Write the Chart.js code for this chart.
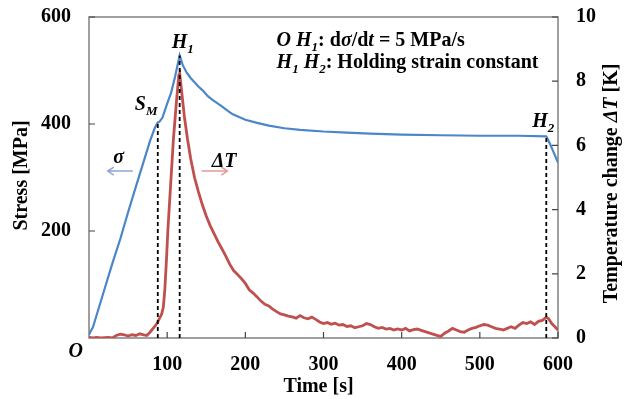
<!DOCTYPE html>
<html>
<head>
<meta charset="utf-8">
<script src="https://cdn.jsdelivr.net/npm/chart.js@4.4.0/dist/chart.umd.min.js"></script>
<style>
  html, body { margin:0; padding:0; background:#fff; }
  #wrap { width:626px; height:399px; }
</style>
</head>
<body>
<div id="wrap"><canvas id="grafico"></canvas></div>
<script>
// tiempo [s] y esfuerzo [MPa]
const stressTime = [0, 2, 5, 10, 20, 30, 40, 50, 60, 70, 78, 84, 88, 90, 94, 100, 105, 110, 116, 120, 125, 130, 135, 140, 146, 152, 158, 164, 170, 178, 184, 192, 200, 215, 230, 250, 270, 300, 330, 360, 400, 450, 500, 550, 585, 590, 595, 600];
const stressVals = [6, 12, 20, 44, 92, 140, 185, 235, 283, 330, 368, 392, 403, 404, 412, 438, 458, 488, 528, 510, 496, 486, 478, 470, 462, 452, 445, 439, 433, 424, 418, 413, 408, 402, 397, 392, 389, 386, 384, 382, 380, 379, 378, 378, 377, 362, 345, 328];

// cambio de temperatura [K]
const tempTime = [0, 5, 10, 15, 20, 25, 30, 35, 40, 45, 50, 55, 60, 65, 70, 74, 78, 82, 86, 88, 90, 93, 95, 97, 99, 101, 104, 108, 112, 115, 116, 118, 122, 126, 130, 135, 140, 145, 150, 155, 160, 165, 170, 175, 180, 185, 190, 195, 200, 205, 210, 215, 220, 225, 230, 235, 240, 245, 250, 255, 260, 265, 270, 275, 280, 285, 290, 295, 300, 305, 310, 315, 320, 325, 330, 335, 340, 345, 350, 355, 360, 365, 370, 375, 380, 385, 390, 395, 400, 405, 410, 415, 420, 425, 430, 435, 440, 445, 450, 455, 460, 465, 470, 475, 480, 485, 490, 495, 500, 505, 510, 515, 520, 525, 530, 535, 540, 545, 550, 555, 560, 565, 570, 575, 580, 585, 588, 592, 596, 600];
const tempVals = [0.02, 0.0, 0.02, 0.0, 0.01, 0.02, 0.0, 0.08, 0.12, 0.1, 0.06, 0.1, 0.08, 0.13, 0.1, 0.08, 0.18, 0.3, 0.42, 0.5, 0.6, 0.75, 0.95, 1.5, 2.4, 3.4, 4.6, 6.2, 7.4, 8.2, 8.25, 7.8, 6.9, 6.2, 5.6, 5.0, 4.55, 4.15, 3.8, 3.5, 3.25, 3.0, 2.78, 2.55, 2.3, 2.1, 1.98, 1.85, 1.7, 1.5, 1.4, 1.28, 1.15, 1.05, 1.0, 0.9, 0.82, 0.75, 0.72, 0.68, 0.66, 0.62, 0.7, 0.63, 0.6, 0.65, 0.58, 0.5, 0.45, 0.48, 0.43, 0.46, 0.4, 0.42, 0.36, 0.38, 0.32, 0.35, 0.38, 0.45, 0.42, 0.35, 0.3, 0.33, 0.28, 0.3, 0.25, 0.28, 0.25, 0.3, 0.22, 0.26, 0.28, 0.24, 0.2, 0.16, 0.12, 0.08, 0.05, 0.15, 0.22, 0.3, 0.25, 0.2, 0.18, 0.25, 0.3, 0.33, 0.38, 0.42, 0.4, 0.35, 0.3, 0.28, 0.25, 0.3, 0.35, 0.3, 0.4, 0.48, 0.45, 0.5, 0.42, 0.52, 0.55, 0.65, 0.6, 0.45, 0.35, 0.25];

// puntos S_M, H1, H2
const markerTime = [88, 116, 585];
const markerStress = [403, 528, 377];

const timeTicks = [100, 200, 300, 400, 500, 600];
const stressTicks = [200, 400, 600];
const tempTicks = [0, 2, 4, 6, 8, 10];

const FAM = "'Liberation Serif', 'Times New Roman', serif";
Chart.defaults.font = { family: FAM, size: 20, weight: 'bold' };
Chart.defaults.color = '#000';

function anchoRuns(ctx, partes) {
  let w = 0;
  for (const p of partes) {
    ctx.font = (p.it ? 'italic ' : '') + 'bold ' + (p.sub ? 13 : 20) + 'px ' + FAM;
    w += ctx.measureText(p.t).width;
  }
  return w;
}
function runs(ctx, x, y, partes) {
  for (const p of partes) {
    ctx.font = (p.it ? 'italic ' : '') + 'bold ' + (p.sub ? 13 : 20) + 'px ' + FAM;
    ctx.fillText(p.t, x, y + (p.sub ? 5 : 0));
    x += ctx.measureText(p.t).width;
  }
  return x;
}
function flecha(ctx, x0, x1, y, color) {
  const d = x1 > x0 ? -1 : 1;
  ctx.strokeStyle = color; ctx.lineWidth = 1.5;
  ctx.beginPath(); ctx.moveTo(x0, y); ctx.lineTo(x1, y);
  ctx.moveTo(x1 + d * 6, y - 4); ctx.lineTo(x1, y); ctx.lineTo(x1 + d * 6, y + 4);
  ctx.stroke();
}

const marcas = {
  id: 'marcas',
  beforeDatasetsDraw(chart) {
    const { ctx, chartArea: a, scales: { x, y, y1 } } = chart;
    ctx.save();
    ctx.strokeStyle = '#808080'; ctx.lineWidth = 1.5;
    ctx.strokeRect(a.left, a.top, a.right - a.left, a.bottom - a.top);
    ctx.strokeStyle = '#444'; ctx.lineWidth = 1.2;
    ctx.beginPath();
    timeTicks.forEach(v => { const px = x.getPixelForValue(v); ctx.moveTo(px, a.bottom); ctx.lineTo(px, a.bottom - 6); });
    stressTicks.forEach(v => { const py = y.getPixelForValue(v); ctx.moveTo(a.left, py); ctx.lineTo(a.left + 6, py); });
    tempTicks.forEach(v => { const py = y1.getPixelForValue(v); ctx.moveTo(a.right, py); ctx.lineTo(a.right - 6, py); });
    ctx.stroke();
    ctx.restore();
  },
  afterDraw(chart) {
    const { ctx, chartArea: a, scales: { x, y } } = chart;
    ctx.save();
    ctx.fillStyle = '#000'; ctx.textAlign = 'left'; ctx.textBaseline = 'alphabetic';

    // origen
    ctx.font = 'italic bold 20px ' + FAM;
    ctx.textAlign = 'right';
    ctx.fillText('O', a.left - 6, a.bottom + 19);
    ctx.textAlign = 'left';

    // titulos de ejes
    const tx = [{ t: 'Time [s]' }];
    runs(ctx, (a.left + a.right) / 2 - 5 - anchoRuns(ctx, tx) / 2, 392, tx);

    const ty = [{ t: 'Stress [MPa]' }];
    ctx.save(); ctx.translate(27, (a.top + a.bottom) / 2 - 2); ctx.rotate(-Math.PI / 2);
    runs(ctx, -anchoRuns(ctx, ty) / 2, 0, ty); ctx.restore();

    const ty1 = [{ t: 'Temperature change ' }, { t: 'ΔT', it: true }, { t: ' [K]' }];
    ctx.save(); ctx.translate(617, (a.top + a.bottom) / 2 + 6); ctx.rotate(-Math.PI / 2);
    runs(ctx, -anchoRuns(ctx, ty1) / 2, 0, ty1); ctx.restore();

    // etiquetas de puntos
    const px = markerTime.map(t => x.getPixelForValue(t));
    const py = markerStress.map(s => y.getPixelForValue(s));
    runs(ctx, px[0] - 23, py[0] - 12, [{ t: 'S', it: true }, { t: 'M', it: true, sub: true }]);
    runs(ctx, px[1] - 8, py[1] - 8, [{ t: 'H', it: true }, { t: '1', it: true, sub: true }]);
    runs(ctx, px[2] - 14, py[2] - 9, [{ t: 'H', it: true }, { t: '2', it: true, sub: true }]);

    // texto de condiciones
    const lx = x.getPixelForValue(240);
    runs(ctx, lx, y.getPixelForValue(546), [{ t: 'O', it: true }, { t: ' ' }, { t: 'H', it: true }, { t: '1', it: true, sub: true }, { t: ': d' }, { t: 'σ', it: true }, { t: '/d' }, { t: 't', it: true }, { t: ' = 5 MPa/s' }]);
    runs(ctx, lx, y.getPixelForValue(505), [{ t: 'H', it: true }, { t: '1', it: true, sub: true }, { t: ' ' }, { t: 'H', it: true }, { t: '2', it: true, sub: true }, { t: ': Holding strain constant' }]);

    // flechas sigma y delta T
    const ay = y.getPixelForValue(312);
    flecha(ctx, x.getPixelForValue(56), x.getPixelForValue(24), ay, '#8ea6cf');
    runs(ctx, x.getPixelForValue(31), y.getPixelForValue(327), [{ t: 'σ', it: true }]);
    flecha(ctx, x.getPixelForValue(144), x.getPixelForValue(177), ay, '#e39a9a');
    runs(ctx, x.getPixelForValue(157), y.getPixelForValue(320), [{ t: 'ΔT', it: true }]);
    ctx.restore();
  }
};

const guias = markerTime.map((t, i) => ({
  data: [{ x: t, y: 0 }, { x: t, y: markerStress[i] }],
  yAxisID: 'y', borderColor: '#000', borderWidth: 1.8, borderDash: [4, 3],
  pointRadius: 0, order: 0
}));

// fija el ancho de cada eje y quita el relleno extra de las etiquetas
const fijar = (ancho, alto) => s => {
  if (ancho) s.width = ancho;
  if (alto) s.height = alto;
  s.paddingTop = 0; s.paddingBottom = 0;
};

new Chart(document.getElementById('grafico'), {
  type: 'line',
  data: {
    datasets: [
      ...guias,
      { data: tempTime.map((t, i) => ({ x: t, y: tempVals[i] })), yAxisID: 'y1',
        borderColor: '#c0504d', borderWidth: 2.8, pointRadius: 0, tension: 0, order: 1 },
      { data: stressTime.map((t, i) => ({ x: t, y: stressVals[i] })), yAxisID: 'y',
        borderColor: '#4a86c8', borderWidth: 2.2, pointRadius: 0, tension: 0, order: 2 }
    ]
  },
  options: {
    responsive: true, maintainAspectRatio: false, animation: false,
    layout: { padding: { top: 17, left: 0, right: 0, bottom: 0 } },
    plugins: { legend: { display: false }, tooltip: { enabled: false } },
    scales: {
      x: {
        type: 'linear', min: 0, max: 600,
        grid: { display: false, drawTicks: false }, border: { display: false },
        ticks: { stepSize: 100, autoSkip: false, padding: 15, maxRotation: 0,
          callback: v => timeTicks.includes(v) ? v : '' },
        afterFit: fijar(0, 61)
      },
      y: {
        position: 'left', min: 0, max: 600,
        grid: { display: false, drawTicks: false }, border: { display: false },
        ticks: { stepSize: 200, padding: 18, callback: v => stressTicks.includes(v) ? v : '' },
        afterFit: fijar(89, 0)
      },
      y1: {
        position: 'right', min: 0, max: 10,
        grid: { display: false, drawTicks: false }, border: { display: false },
        ticks: { stepSize: 2, padding: 18, callback: v => tempTicks.includes(v) ? v : '' },
        afterFit: fijar(68, 0)
      }
    }
  },
  plugins: [marcas]
});
</script>
</body>
</html>
